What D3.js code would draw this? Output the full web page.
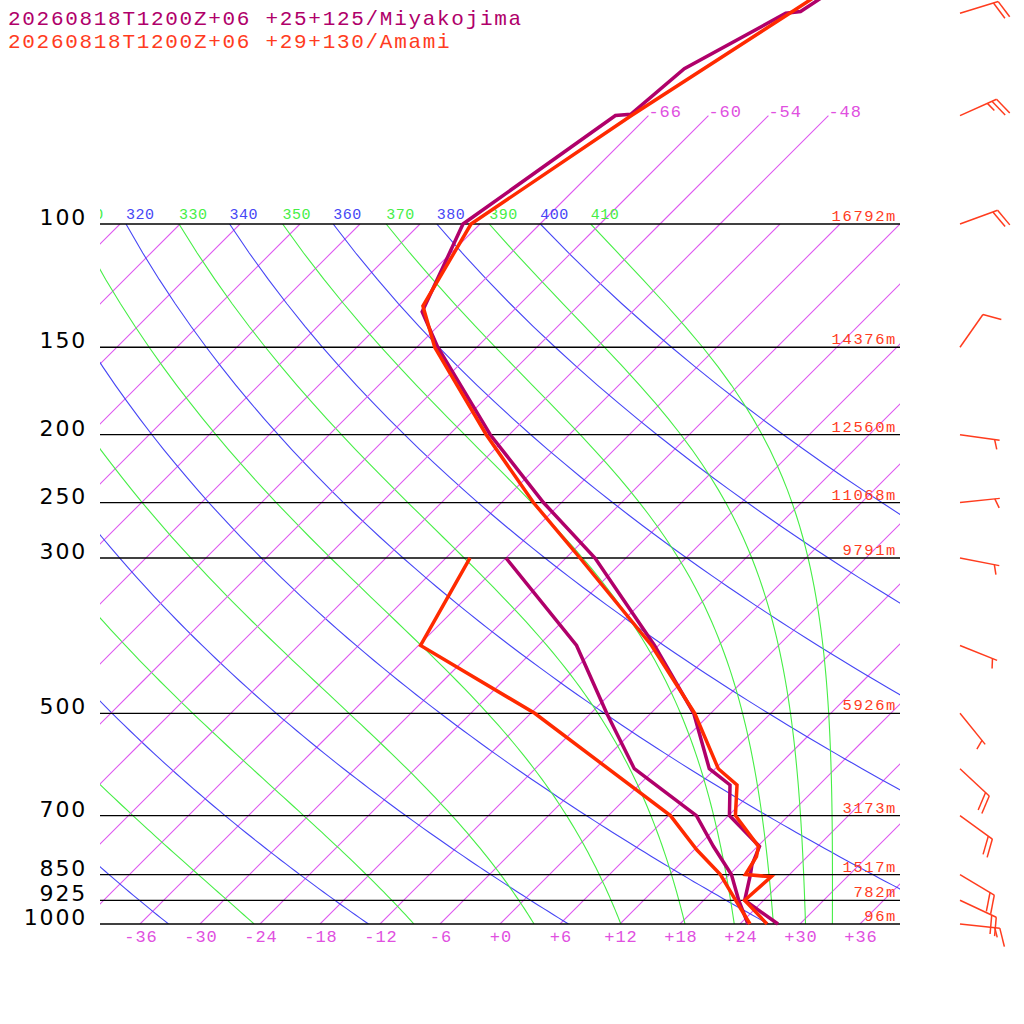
<!DOCTYPE html>
<html>
<head>
<meta charset="utf-8">
<script src="https://cdn.jsdelivr.net/npm/d3@7"></script>
<style>
body { margin: 0; background: #fff; }
text { font-family: "Liberation Mono", monospace; }
</style>
</head>
<body>
<script>
// ---- data ----
const titles = ['20260818T1200Z+06 +25+125/Miyakojima', '20260818T1200Z+06 +29+130/Amami'];

const pressureLevels = [1000, 925, 850, 700, 500, 300, 250, 200, 150, 100];
const amamiHeights = ['96m', '782m', '1517m', '3173m', '5926m', '9791m', '11068m', '12560m', '14376m', '16792m'];

// Miyakojima (purple)
const miyaTempP = [1000, 925, 850, 824, 775, 700, 633, 600, 500, 400, 300, 250, 200, 150, 133.5, 100, 70, 69.7, 60, 50, 49.7, 45];
const miyaTemp  = [27.8, 22.1, 20.1, 19.3, 18.2, 12.1, 9.1, 5.4, -1.7, -12.4, -27.1, -37.8, -49.9, -63.9, -69.0, -73.7, -69.3, -67.9, -67.1, -62.5, -61.2, -59.6];
const miyaDewP  = [1000, 925, 850, 775, 700, 600, 500, 400, 300];
const miyaDew   = [24.8, 21.5, 18.2, 13.6, 8.8, -2.1, -10.4, -20.2, -36.0];

// Amami (red)
const amamiTempP = [1000, 925, 856, 850, 801, 775, 700, 633, 600, 500, 400, 300, 250, 200, 150, 131, 100, 70, 50, 45];
const amamiTemp  = [26.7, 22.1, 22.4, 19.6, 18.9, 18.1, 12.7, 9.8, 6.3, -1.6, -12.7, -28.6, -38.8, -50.3, -64.2, -69.5, -72.9, -67.7, -62.1, -60.4];
const amamiDewP  = [1000, 925, 850, 784, 700, 500, 400, 300];
const amamiDew   = [25.0, 21.2, 17.1, 12.3, 6.2, -17.6, -35.8, -39.6];

// Amami winds
const windP        = [1000, 925, 850, 700, 600, 500, 400, 300, 250, 200, 150, 100, 70, 50];
const amamiWindDir = [96, 115, 121, 126, 133, 141, 112, 101, 84, 98, 35, 70, 66, 73];
const amamiWindKt  = [15, 20, 20, 20, 20, 5, 5, 5, 5, 5, 10, 20, 25, 20];

// grid values
const isotherms = d3.range(-114, 37, 6);
const topIsotherms = [-66, -60, -54, -48];
const tempTicks = d3.range(-36, 37, 6);
const dryThetas = [240, 260, 280, 300, 320, 340, 360, 380, 400];
const moistThetas = [250, 270, 290, 310, 330, 350, 370, 390, 410];

// ---- scales ----
const y = d3.scaleLog().domain([1000, 100]).range([924, 224]);
const xT = d3.scaleLinear().domain([-40, 40]).range([100, 900]);
const skewX = (t, p) => xT(t) + (y(1000) - y(p));

const svg = d3.select('body').append('svg')
    .attr('width', 1024)
    .attr('height', 1024);

const defs = svg.append('defs');
defs.append('clipPath').attr('id', 'plot')
  .append('rect').attr('x', 100).attr('y', 224).attr('width', 800).attr('height', 700);
defs.append('clipPath').attr('id', 'plotTop')
  .append('rect').attr('x', 100).attr('y', 0).attr('width', 800).attr('height', 924);
defs.append('clipPath').attr('id', 'labelClip')
  .append('rect').attr('x', 100).attr('y', 190).attr('width', 800).attr('height', 40);

const line = d3.line().x(d => skewX(d[1], d[0])).y(d => y(d[0]));

const isoColor = 'rgb(222,90,240)';
const isoP = d3.range(1000, 99, -50);

// isotherms
const grid = svg.append('g').attr('clip-path', 'url(#plot)');
grid.selectAll('path.iso')
  .data(isotherms.filter(t => !topIsotherms.includes(t)))
  .join('path')
    .attr('class', 'iso')
    .attr('d', t => line(isoP.map(p => [p, t])))
    .attr('fill', 'none')
    .attr('stroke', isoColor)
    .attr('stroke-width', 1.1);

svg.append('g').attr('clip-path', 'url(#plotTop)')
  .selectAll('path.iso-top')
  .data(topIsotherms)
  .join('path')
    .attr('class', 'iso-top')
    .attr('d', t => line(isoP.concat([70]).map(p => [p, t])))
    .attr('fill', 'none')
    .attr('stroke', isoColor)
    .attr('stroke-width', 1.1);

// dry adiabats
const pSamples = d3.range(1000, 99, -10);
grid.selectAll('path.dry')
  .data(dryThetas)
  .join('path')
    .attr('class', 'dry')
    .attr('d', th => line(pSamples.map(p => [p, th * Math.pow(p / 1000, 0.2857) - 273.15])))
    .attr('fill', 'none')
    .attr('stroke', '#4646f5')
    .attr('stroke-width', 1.1);

// moist (pseudo) adiabats, Bolton theta-e solved at each level
function thetaE(tc, p) {
  const es = 6.112 * Math.exp(17.67 * tc / (tc + 243.5));
  const r = 622 * es / (p - es);
  const tk = tc + 273.15;
  return tk * Math.pow(1000 / p, 0.2854 * (1 - 0.00028 * r)) *
    Math.exp((3.376 / tk - 0.00254) * r * (1 + 0.00081 * r));
}
function moistT(the, p) {
  let lo = -140, hi = 60;
  for (let i = 0; i < 50; i++) {
    const mid = (lo + hi) / 2;
    if (thetaE(mid, p) > the) hi = mid; else lo = mid;
  }
  return (lo + hi) / 2;
}
grid.selectAll('path.moist')
  .data(moistThetas)
  .join('path')
    .attr('class', 'moist')
    .attr('d', th => line(pSamples.map(p => [p, moistT(th, p)])))
    .attr('fill', 'none')
    .attr('stroke', '#46ee46')
    .attr('stroke-width', 1.1);

// pressure lines
svg.append('g').selectAll('line.plev')
  .data(pressureLevels)
  .join('line')
    .attr('class', 'plev')
    .attr('x1', 100).attr('x2', 900)
    .attr('y1', p => y(p)).attr('y2', p => y(p))
    .attr('stroke', '#000')
    .attr('stroke-width', 1.3);

// pressure labels
svg.append('g').selectAll('text')
  .data(pressureLevels)
  .join('text')
    .attr('x', 87)
    .attr('y', p => y(p) + 1)
    .attr('text-anchor', 'end')
    .style('font-family', '"DejaVu Sans", sans-serif')
    .style('font-size', '22px')
    .style('letter-spacing', '1.8px')
    .attr('fill', '#000')
    .text(p => p);

// height labels
svg.append('g').selectAll('text')
  .data(pressureLevels)
  .join('text')
    .attr('x', 897)
    .attr('y', p => y(p) - 3)
    .attr('text-anchor', 'end')
    .style('font-size', '15.5px')
    .style('letter-spacing', '1.6px')
    .attr('fill', '#ff3c1e')
    .text((p, i) => amamiHeights[i]);

// temperature ticks at the bottom
svg.append('g').selectAll('text')
  .data(tempTicks)
  .join('text')
    .attr('x', t => xT(t) + 1)
    .attr('y', 942)
    .attr('text-anchor', 'middle')
    .style('font-size', '17px')
    .style('letter-spacing', '1px')
    .attr('fill', '#e050e0')
    .text(t => (t >= 0 ? '+' : '') + t);

// isotherm labels at the top
svg.append('g').selectAll('text')
  .data(topIsotherms)
  .join('text')
    .attr('x', t => skewX(t, 70))
    .attr('y', y(70) + 1)
    .style('font-size', '17px')
    .style('letter-spacing', '1px')
    .attr('fill', '#e050e0')
    .text(t => t);

// theta labels along 100 hPa
const thetaLabels = svg.append('g').attr('clip-path', 'url(#labelClip)');
thetaLabels.selectAll('text.dl')
  .data(dryThetas.filter(th => th >= 320))
  .join('text')
    .attr('class', 'dl')
    .attr('x', th => skewX(th * Math.pow(0.1, 0.2857) - 273.15, 100))
    .attr('y', 219)
    .style('font-size', '15px')
    .style('letter-spacing', '0.5px')
    .attr('fill', '#4646f5')
    .text(th => th);
thetaLabels.selectAll('text.ml')
  .data(moistThetas.filter(th => th >= 310))
  .join('text')
    .attr('class', 'ml')
    .attr('x', th => skewX(moistT(th, 100), 100))
    .attr('y', 219)
    .style('font-size', '15px')
    .style('letter-spacing', '0.5px')
    .attr('fill', '#46ee46')
    .text(th => th);

// soundings
const stations = [
  { color: '#b0006a', series: [[miyaTempP, miyaTemp], [miyaDewP, miyaDew]] },
  { color: '#ff2a00', series: [[amamiTempP, amamiTemp], [amamiDewP, amamiDew]] }
];
stations.forEach(st => {
  st.series.forEach(([ps, ts]) => {
    svg.append('path')
      .attr('d', line(ps.map((p, i) => [p, ts[i]])))
      .attr('fill', 'none')
      .attr('stroke', st.color)
      .attr('stroke-width', 3.5);
  });
});

// titles
svg.selectAll('text.title')
  .data(titles)
  .join('text')
    .attr('class', 'title')
    .attr('x', 8)
    .attr('y', (d, i) => 25 + i * 23)
    .style('font-size', '21px')
    .style('letter-spacing', '1.7px')
    .attr('fill', (d, i) => i === 0 ? '#b0006a' : '#ff3c1e')
    .text(d => d);

// wind barbs (Amami)
const barbs = svg.append('g')
    .attr('stroke', '#ff3c1e')
    .attr('stroke-width', 1.5)
    .attr('fill', 'none');
windP.forEach((p, i) => {
  const a = amamiWindDir[i] * Math.PI / 180;
  const ux = Math.sin(a), uy = -Math.cos(a);
  const L = 40, x0 = 960, y0 = y(p);
  barbs.append('line')
    .attr('x1', x0).attr('y1', y0)
    .attr('x2', x0 + ux * L).attr('y2', y0 + uy * L);
  const ang = Math.atan2(uy, ux) + 70 * Math.PI / 180;
  const bx = Math.cos(ang), by = Math.sin(ang);
  const spd = amamiWindKt[i];
  const full = Math.floor(spd / 10);
  const half = spd % 10 >= 5;
  let k = 0;
  for (; k < full; k++) {
    const s = L - k * 5;
    barbs.append('line')
      .attr('x1', x0 + ux * s).attr('y1', y0 + uy * s)
      .attr('x2', x0 + ux * s + bx * 19).attr('y2', y0 + uy * s + by * 19);
  }
  if (half) {
    if (k === 0) k = 1;
    const s = L - k * 5;
    barbs.append('line')
      .attr('x1', x0 + ux * s).attr('y1', y0 + uy * s)
      .attr('x2', x0 + ux * s + bx * 10).attr('y2', y0 + uy * s + by * 10);
  }
});
</script>
</body>
</html>
